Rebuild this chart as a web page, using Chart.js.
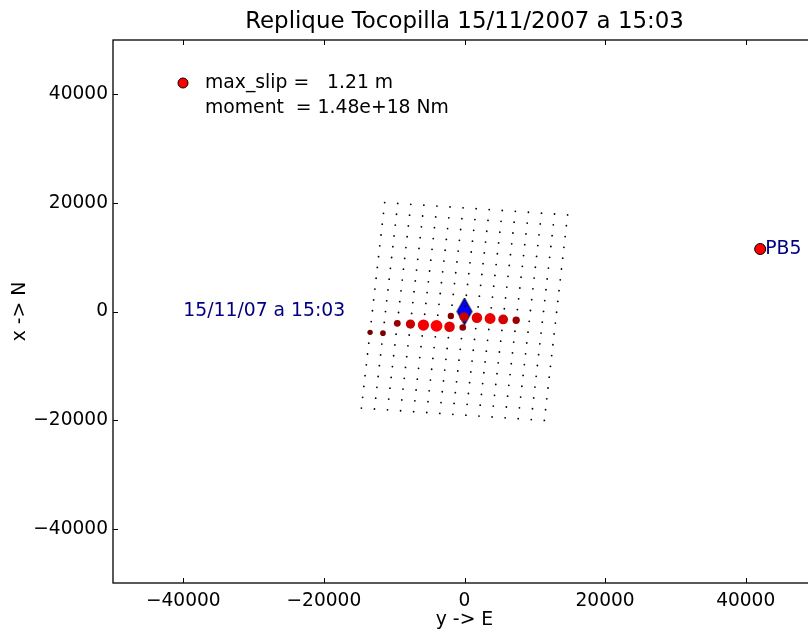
<!DOCTYPE html>
<html>
<head>
<meta charset="utf-8">
<script src="https://cdn.jsdelivr.net/npm/chart.js@4.4.0/dist/chart.umd.min.js"></script>
<style>
  html, body { margin: 0; padding: 0; background: #fff; overflow: hidden; }
  #wrap { width: 808px; height: 635px; overflow: hidden; }
</style>
</head>
<body>
<div id="wrap"><canvas id="slipChart" width="830" height="635"></canvas></div>
<script>
// axis ticks
const xTickValues = [-40000, -20000, 0, 20000, 40000];
const yTickValues = [-40000, -20000, 0, 20000, 40000];

// fault grid: offsets along strike and along dip (m), strike rotation (deg)
const alongStrike = [-13060, -11195, -9330, -7465, -5600, -3730, -1865, 0, 1865, 3730, 5600, 7465, 9330, 11195, 13060];
const alongDip = [19000, 17000, 15000, 13000, 11000, 9000, 7000, 5000, 3000, 1000,
                  -1000, -3000, -5000, -7000, -9000, -11000, -13000, -15000, -17000, -19000];
const strikeAngle = 5;

// slipping sub-faults
const slipEast = [-13430, -11600, -9560, -7690, -5840, -3980, -2130, -250, -1940, -70, 1770, 3640, 5500, 7350];
const slipNorth = [-3840, -3990, -2180, -2320, -2490, -2640, -2810, -2950, -830, -980, -1150, -1290, -1460, -1610];
const slipValue = [0.55, 0.58, 0.70, 0.95, 1.15, 1.21, 1.08, 0.68, 0.65, 0.95, 1.08, 1.12, 1.00, 0.75];
const maxSlip = 1.21;

// hypocentre
const hypoEast = [0];
const hypoNorth = [0];
const hypoLabel = '15/11/07 a 15:03';
const hypoLabelEast = -40000;

// station
const stationNames = ['PB5'];
const stationEast = [42060];
const stationNorth = [11510];

const titleText = 'Replique Tocopilla 15/11/2007 a 15:03';
const legendLines = ['max_slip =   1.21 m', 'moment  = 1.48e+18 Nm'];

const FONT = "'DejaVu Sans', sans-serif";
const NAVY = '#000080';

// build the grid points
const th = strikeAngle * Math.PI / 180;
const gridPoints = [];
alongDip.forEach(v => {
    alongStrike.forEach(u => {
        gridPoints.push({
            x: u * Math.cos(th) + v * Math.sin(th),
            y: -u * Math.sin(th) + v * Math.cos(th)
        });
    });
});

const slipPoints = slipEast.map((e, i) => ({x: e, y: slipNorth[i]}));
const slipRadius = slipValue.map(s => 5.9 * s / maxSlip);
const slipColor = slipValue.map(s => 'rgb(' + Math.round(255 * s / maxSlip) + ',0,0)');

// thin diamond marker
const diamond = document.createElement('canvas');
diamond.width = 18;
diamond.height = 29;
(function () {
    const c = diamond.getContext('2d');
    c.beginPath();
    c.moveTo(9, 1);
    c.lineTo(16.5, 14.5);
    c.lineTo(9, 28);
    c.lineTo(1.5, 14.5);
    c.closePath();
    c.fillStyle = '#0000ff';
    c.fill();
    c.lineWidth = 1;
    c.strokeStyle = '#000';
    c.stroke();
})();

function fmt(v) {
    return v < 0 ? '\u2212' + Math.abs(v) : String(v);
}

const framePlugin = {
    id: 'frame',
    afterDraw(chart) {
        const ctx = chart.ctx;
        const a = chart.chartArea;
        const xs = chart.scales.x;
        const ys = chart.scales.y;
        ctx.save();
        ctx.strokeStyle = '#000';
        ctx.lineWidth = 1;
        // inward ticks
        ctx.beginPath();
        xTickValues.forEach(v => {
            const px = Math.round(xs.getPixelForValue(v)) + 0.5;
            ctx.moveTo(px, a.bottom); ctx.lineTo(px, a.bottom - 5);
            ctx.moveTo(px, a.top); ctx.lineTo(px, a.top + 5);
        });
        yTickValues.forEach(v => {
            const py = Math.round(ys.getPixelForValue(v)) + 0.5;
            ctx.moveTo(a.left, py); ctx.lineTo(a.left + 5, py);
            ctx.moveTo(a.right, py); ctx.lineTo(a.right - 5, py);
        });
        ctx.stroke();
        // axes box
        ctx.lineWidth = 1.3;
        ctx.strokeRect(a.left, a.top, a.right - a.left, a.bottom - a.top);

        ctx.fillStyle = '#000';
        // title
        ctx.font = '22.9px ' + FONT;
        ctx.textAlign = 'center';
        ctx.textBaseline = 'alphabetic';
        ctx.fillText(titleText, (a.left + a.right) / 2, 28);
        // axis titles
        ctx.font = '18.8px ' + FONT;
        ctx.textBaseline = 'middle';
        ctx.fillText('y -> E', (a.left + a.right) / 2, 620);
        ctx.save();
        ctx.translate(20, (a.top + a.bottom) / 2);
        ctx.rotate(-Math.PI / 2);
        ctx.fillText('x -> N', 0, 0);
        ctx.restore();

        // legend
        ctx.beginPath();
        ctx.arc(a.left + 70, a.top + 43, 5, 0, Math.PI * 2);
        ctx.fillStyle = '#ff0000';
        ctx.fill();
        ctx.lineWidth = 1;
        ctx.stroke();
        ctx.fillStyle = '#000';
        ctx.textAlign = 'left';
        ctx.fillText(legendLines[0], a.left + 92, a.top + 43);
        ctx.fillText(legendLines[1], a.left + 92, a.top + 68);

        // annotations
        ctx.fillStyle = NAVY;
        ctx.fillText(hypoLabel, xs.getPixelForValue(hypoLabelEast), ys.getPixelForValue(hypoNorth[0]));
        stationNames.forEach((n, i) => {
            ctx.fillText(n, xs.getPixelForValue(stationEast[i]) + 5, ys.getPixelForValue(stationNorth[i]));
        });
        ctx.restore();
    }
};

const axisCommon = {
    type: 'linear',
    min: -50000,
    max: 50000,
    grid: {display: false, drawTicks: false},
    border: {display: false},
    ticks: {
        color: '#000',
        font: {family: FONT, size: 18.6},
        autoSkip: false,
        maxRotation: 0,
        callback: v => fmt(v)
    }
};

const ctx = document.getElementById('slipChart').getContext('2d');
const chart = new Chart(ctx, {
    type: 'scatter',
    data: {
        datasets: [
            {
                label: 'slip',
                data: slipPoints,
                pointRadius: slipRadius,
                backgroundColor: slipColor,
                borderWidth: 0
            },
            {
                label: 'grid',
                data: gridPoints,
                pointRadius: 0.9,
                backgroundColor: '#000',
                borderWidth: 0
            },
            {
                label: 'hypo',
                data: hypoEast.map((e, i) => ({x: e, y: hypoNorth[i]})),
                pointStyle: diamond
            },
            {
                label: 'station',
                data: stationEast.map((e, i) => ({x: e, y: stationNorth[i]})),
                pointRadius: 5.5,
                backgroundColor: '#ff0000',
                borderColor: '#000',
                borderWidth: 1
            }
        ]
    },
    options: {
        responsive: false,
        animation: false,
        events: [],
        layout: {padding: {top: 40, right: 14, left: 0, bottom: 0}},
        plugins: {
            legend: {display: false},
            tooltip: {enabled: false},
            title: {display: false}
        },
        scales: {
            x: Object.assign({}, axisCommon, {
                ticks: Object.assign({}, axisCommon.ticks, {padding: 7}),
                afterBuildTicks: s => { s.ticks = xTickValues.map(v => ({value: v})); },
                afterFit: s => { s.height = 52; }
            }),
            y: Object.assign({}, axisCommon, {
                ticks: Object.assign({}, axisCommon.ticks, {padding: 5}),
                afterBuildTicks: s => { s.ticks = yTickValues.map(v => ({value: v})); },
                afterFit: s => { s.width = 113; }
            })
        }
    },
    plugins: [framePlugin]
});
</script>
</body>
</html>
